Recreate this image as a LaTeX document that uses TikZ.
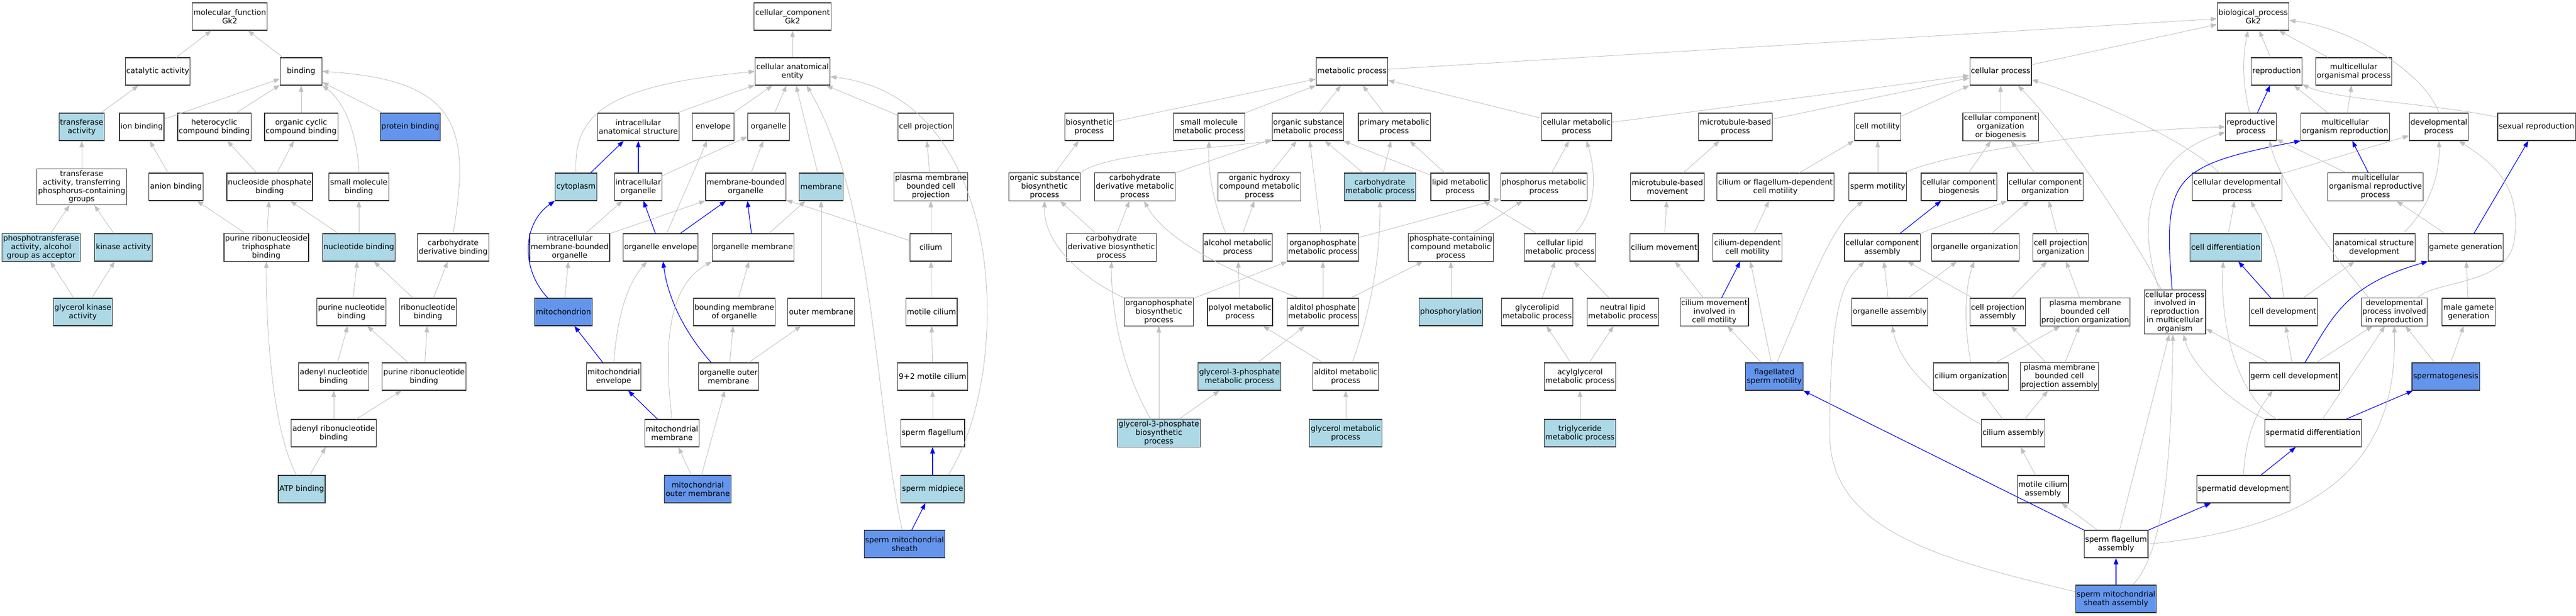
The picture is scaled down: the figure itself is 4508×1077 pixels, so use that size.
\documentclass[tikz,border=0pt]{standalone}
\usepackage{fontspec}
\setmainfont{DejaVu Sans}
\usetikzlibrary{arrows.meta}
\definecolor{boxlight}{RGB}{173,216,230}
\definecolor{boxdark}{RGB}{100,149,237}
\definecolor{edgegray}{RGB}{192,192,192}

\begin{document}
\begin{tikzpicture}[x=1pt,y=1pt,
  every node/.style={draw=black!80,line width=1.1pt,fill=white,align=center,
    minimum width=73pt,minimum height=48pt,inner xsep=2pt,inner ysep=3pt,
    font=\fontsize{13.3}{14.7}\selectfont},%
  hl/.style={fill=boxlight},%
  hd/.style={fill=boxdark},%
  e/.style={-{Triangle[length=11pt,width=8pt]},line width=0.85pt,edgegray},%
  p/.style={e,blue,line width=1.1pt},%
  ]

  \path [fill=white] (0,0) rectangle (4508,-1077);
  \useasboundingbox (0,0) rectangle (4508,-1077);

  \node (mf) at (402,-29) {molecular\_function\\Gk2};
  \node (catact) at (276,-125) {catalytic activity};
  \node (bind) at (527,-125) {binding};
  \node (transf) [hl] at (143,-222) {transferase\\activity};
  \node (ionb) at (248,-222) {ion binding};
  \node (hetb) at (375,-222) {heterocyclic\\compound binding};
  \node (orgcb) at (527,-222) {organic cyclic\\compound binding};
  \node (protb) [hd] at (718,-222) {protein binding};
  \node (transfp) at (143,-327) {transferase\\activity, transferring\\phosphorus-containing\\groups};
  \node (anionb) at (308,-327) {anion binding};
  \node (nucpb) at (472,-327) {nucleoside phosphate\\binding};
  \node (smolb) at (628,-327) {small molecule\\binding};
  \node (phosph) [hl] at (72,-433) {phosphotransferase\\activity, alcohol\\group as acceptor};
  \node (kinase) [hl] at (216,-433) {kinase activity};
  \node (purrtb) at (466,-433) {purine ribonucleoside\\triphosphate\\binding};
  \node (nucb) [hl] at (628,-433) {nucleotide binding};
  \node (carbdb) at (793,-433) {carbohydrate\\derivative binding};
  \node (glyck) [hl] at (145,-546) {glycerol kinase\\activity};
  \node (purnb) at (615,-546) {purine nucleotide\\binding};
  \node (ribob) at (749,-546) {ribonucleotide\\binding};
  \node (adenb) at (584,-659) {adenyl nucleotide\\binding};
  \node (purrb) at (742,-659) {purine ribonucleotide\\binding};
  \node (adenrb) at (584,-758) {adenyl ribonucleotide\\binding};
  \node (atpb) [hl] at (528,-856) {ATP binding};

  \node (cc) at (1387,-29) {cellular\_component\\Gk2};
  \node (cae) at (1387,-125) {cellular anatomical\\entity};
  \node (ias) at (1117,-222) {intracellular\\anatomical structure};
  \node (env) at (1248,-222) {envelope};
  \node (org) at (1345,-222) {organelle};
  \node (cproj) at (1620,-222) {cell projection};
  \node (cyto) [hl] at (1008,-327) {cytoplasm};
  \node (iorg) at (1117,-327) {intracellular\\organelle};
  \node (mbo) at (1305,-327) {membrane-bounded\\organelle};
  \node (memb) [hl] at (1437,-327) {membrane};
  \node (pmbcp) at (1629,-327) {plasma membrane\\bounded cell\\projection};
  \node (imbo) at (997,-433) {intracellular\\membrane-bounded\\organelle};
  \node (orgenv) at (1156,-433) {organelle envelope};
  \node (orgmem) at (1318,-433) {organelle membrane};
  \node (cilium) at (1629,-433) {cilium};
  \node (mito) [hd] at (986,-546) {mitochondrion};
  \node (bmo) at (1285,-546) {bounding membrane\\of organelle};
  \node (outmem) at (1437,-546) {outer membrane};
  \node (motcil) at (1630,-546) {motile cilium};
  \node (mitoenv) at (1074,-659) {mitochondrial\\envelope};
  \node (orgout) at (1275,-659) {organelle outer\\membrane};
  \node (cil92) at (1632,-659) {9+2 motile cilium};
  \node (mitomem) at (1176,-758) {mitochondrial\\membrane};
  \node (spflag) at (1632,-758) {sperm flagellum};
  \node (mitoout) [hd] at (1221,-856) {mitochondrial\\outer membrane};
  \node (spmid) [hl] at (1632,-856) {sperm midpiece};
  \node (spsheath) [hd] at (1583,-952) {sperm mitochondrial\\sheath};

  \node (bp) at (3943,-29) {biological\_process\\Gk2};
  \node (metab) at (2366,-125) {metabolic process};
  \node (cellp) at (3501,-125) {cellular process};
  \node (repro) at (3984,-125) {reproduction};
  \node (mcop) at (4119,-125) {multicellular\\organismal process};
  \node (biosyn) at (1906,-222) {biosynthetic\\process};
  \node (smmp) at (2116,-222) {small molecule\\metabolic process};
  \node (osmp) at (2289,-222) {organic substance\\metabolic process};
  \node (primp) at (2440,-222) {primary metabolic\\process};
  \node (cmp) at (2759,-222) {cellular metabolic\\process};
  \node (mtbp) at (3037,-222) {microtubule-based\\process};
  \node (cmot) at (3286,-222) {cell motility};
  \node (ccob) at (3501,-222) {cellular component\\organization\\or biogenesis};
  \node (reprop) at (3939,-222) {reproductive\\process};
  \node (mcor) at (4104,-222) {multicellular\\organism reproduction};
  \node (devp) at (4268,-222) {developmental\\process};
  \node (sexr) at (4439,-222) {sexual reproduction};
  \node (osbp) at (1828,-327) {organic substance\\biosynthetic\\process};
  \node (cdmp) at (1986,-327) {carbohydrate\\derivative metabolic\\process};
  \node (ohcmp) at (2204,-327) {organic hydroxy\\compound metabolic\\process};
  \node (carbmp) [hl] at (2415,-327) {carbohydrate\\metabolic process};
  \node (lipmp) at (2555,-327) {lipid metabolic\\process};
  \node (phosmp) at (2702,-327) {phosphorus metabolic\\process};
  \node (mtbm) at (2918,-327) {microtubule-based\\movement};
  \node (cfdcm) at (3107,-327) {cilium or flagellum-dependent\\cell motility};
  \node (spmot) at (3286,-327) {sperm motility};
  \node (ccbio) at (3428,-327) {cellular component\\biogenesis};
  \node (ccorg) at (3579,-327) {cellular component\\organization};
  \node (cdevp) at (3915,-327) {cellular developmental\\process};
  \node (morp) at (4157,-327) {multicellular\\organismal reproductive\\process};
  \node (cdbp) at (1945,-433) {carbohydrate\\derivative biosynthetic\\process};
  \node (alcmp) at (2166,-433) {alcohol metabolic\\process};
  \node (opmp) at (2315,-433) {organophosphate\\metabolic process};
  \node (pccmp) at (2539,-433) {phosphate-containing\\compound metabolic\\process};
  \node (clmp) at (2730,-433) {cellular lipid\\metabolic process};
  \node (cilmov) at (2912,-433) {cilium movement};
  \node (cdcm) at (3058,-433) {cilium-dependent\\cell motility};
  \node (ccasm) at (3294,-433) {cellular component\\assembly};
  \node (orgorg) at (3457,-433) {organelle organization};
  \node (cporg) at (3606,-433) {cell projection\\organization};
  \node (celldiff) [hl] at (3895,-433) {cell differentiation};
  \node (asdev) at (4155,-433) {anatomical structure\\development};
  \node (gamgen) at (4315,-433) {gamete generation};
  \node (opbp) at (2028,-546) {organophosphate\\biosynthetic\\process};
  \node (polmp) at (2170,-546) {polyol metabolic\\process};
  \node (apmp) at (2315,-546) {alditol phosphate\\metabolic process};
  \node (phosphor) [hl] at (2539,-546) {phosphorylation};
  \node (glmp) at (2690,-546) {glycerolipid\\metabolic process};
  \node (nlmp) at (2840,-546) {neutral lipid\\metabolic process};
  \node (cmicm) at (3000,-546) {cilium movement\\involved in\\cell motility};
  \node (orgasm) at (3307,-546) {organelle assembly};
  \node (cpasm) at (3496,-546) {cell projection\\assembly};
  \node (pmbcpo) at (3649,-546) {plasma membrane\\bounded cell\\projection organization};
  \node (cpirmo) at (3806,-546) {cellular process\\involved in\\reproduction\\in multicellular\\organism};
  \node (celldev) at (3996,-546) {cell development};
  \node (dpir) at (4190,-546) {developmental\\process involved\\in reproduction};
  \node (mgg) at (4320,-546) {male gamete\\generation};
  \node (g3pmp) [hl] at (2169,-659) {glycerol-3-phosphate\\metabolic process};
  \node (altmp) at (2355,-659) {alditol metabolic\\process};
  \node (acylmp) at (2765,-659) {acylglycerol\\metabolic process};
  \node (fsm) [hd] at (3105,-659) {flagellated\\sperm motility};
  \node (cilorg) at (3449,-659) {cilium organization};
  \node (pmbcpa) at (3604,-659) {plasma membrane\\bounded cell\\projection assembly};
  \node (gcd) at (4015,-659) {germ cell development};
  \node (sperm) [hd] at (4280,-659) {spermatogenesis};
  \node (g3pbp) [hl] at (2028,-758) {glycerol-3-phosphate\\biosynthetic\\process};
  \node (glymp) [hl] at (2355,-758) {glycerol metabolic\\process};
  \node (trimp) [hl] at (2765,-758) {triglyceride\\metabolic process};
  \node (cilasm) at (3523,-758) {cilium assembly};
  \node (sptdiff) at (4048,-758) {spermatid differentiation};
  \node (mcasm) at (3575,-856) {motile cilium\\assembly};
  \node (sptdev) at (3926,-856) {spermatid development};
  \node (sfa) at (3703,-952) {sperm flagellum\\assembly};
  \node (smsa) [hd] at (3703,-1048) {sperm mitochondrial\\sheath assembly};

  \draw [e] (catact) -- (mf);
  \draw [e] (bind) -- (mf);
  \draw [e] (transf) -- (catact);
  \draw [e] (ionb) -- (bind);
  \draw [e] (hetb) -- (bind);
  \draw [e] (orgcb) -- (bind);
  \draw [e] (protb) -- (bind);
  \draw [e] (smolb.north) .. controls (626,-240) and (605,-180) .. (bind.south east);
  \draw [e] (carbdb.north) .. controls (825,-220) and (800,-140) .. (bind.east);
  \draw [e] (transfp) -- (transf);
  \draw [e] (anionb) -- (ionb);
  \draw [e] (nucpb) -- (hetb);
  \draw [e] (nucpb) -- (orgcb);
  \draw [e] (phosph) -- (transfp);
  \draw [e] (kinase) -- (transfp);
  \draw [e] (glyck) -- (phosph);
  \draw [e] (glyck) -- (kinase);
  \draw [e] (purrtb) -- (anionb);
  \draw [e] (purrtb) -- (nucpb);
  \draw [e] (nucb) -- (nucpb);
  \draw [e] (nucb) -- (smolb);
  \draw [e] (purnb) -- (nucb);
  \draw [e] (ribob) -- (nucb);
  \draw [e] (ribob) -- (carbdb);
  \draw [e] (adenb) -- (purnb);
  \draw [e] (purrb) -- (purnb);
  \draw [e] (purrb) -- (ribob);
  \draw [e] (adenrb) -- (adenb);
  \draw [e] (adenrb) -- (purrb);
  \draw [e] (atpb) -- (adenrb);
  \draw [e] (atpb.110) .. controls (480,-760) and (466,-600) .. (purrtb.south);

  \draw [e] (cae) -- (cc);
  \draw [e] (ias) -- (cae);
  \draw [e] (env) -- (cae);
  \draw [e] (org) -- (cae);
  \draw [e] (cproj) -- (cae);
  \draw [e] (memb) -- (cae);
  \draw [e] (cyto.north) .. controls (1003,-200) and (1060,-150) .. (cae.west);
  \draw [e] (spsheath.100) .. controls (1530,-700) and (1530,-350) .. (cae.-45);
  \draw [e] (spmid.42) .. controls (1775,-650) and (1765,-170) .. (cae.-8);
  \draw [p] (cyto) -- (ias);
  \draw [p] (iorg) -- (ias);
  \draw [e] (iorg) -- (org);
  \draw [e] (mbo) -- (org);
  \draw [e] (pmbcp) -- (cproj);
  \draw [e] (imbo) -- (iorg);
  \draw [e] (imbo) -- (mbo);
  \draw [p] (orgenv) -- (iorg);
  \draw [p] (orgenv) -- (mbo);
  \draw [e] (orgenv) -- (env);
  \draw [p] (orgmem) -- (mbo);
  \draw [e] (orgmem) -- (memb);
  \draw [e] (cilium) -- (pmbcp);
  \draw [e] (cilium) -- (mbo);
  \draw [p] (mito.138) .. controls (910,-470) and (915,-390) .. (cyto.south west);
  \draw [e] (mito) -- (imbo);
  \draw [e] (outmem) -- (memb);
  \draw [e] (motcil) -- (cilium);
  \draw [e] (bmo) -- (orgmem);
  \draw [p] (mitoenv) -- (mito);
  \draw [e] (mitoenv.north) .. controls (1080,-560) and (1095,-500) .. (orgenv.-134);
  \draw [e] (orgout) -- (bmo);
  \draw [e] (orgout) -- (outmem);
  \draw [p] (orgout.141) .. controls (1205,-590) and (1170,-530) .. (orgenv.-80);
  \draw [p] (mitomem) -- (mitoenv);
  \draw [e] (mitomem.north) .. controls (1160,-600) and (1170,-500) .. (orgmem.south west);
  \draw [e] (mitoout) -- (mitomem);
  \draw [e] (mitoout) -- (orgout);
  \draw [e] (cil92) -- (motcil);
  \draw [e] (spflag) -- (cil92);
  \draw [p] (spmid) -- (spflag);
  \draw [p] (spsheath) -- (spmid);

  \draw [e] (metab) -- (bp);
  \draw [e] (cellp) -- (bp);
  \draw [e] (repro) -- (bp);
  \draw [e] (mcop) -- (bp);
  \draw [e] (devp.north) .. controls (4245,-130) and (4120,-50) .. (bp.-6);
  \draw [e] (reprop.95) .. controls (3922,-140) and (3926,-90) .. (bp.-110);
  \draw [e] (biosyn) -- (metab);
  \draw [e] (smmp) -- (metab);
  \draw [e] (osmp) -- (metab);
  \draw [e] (primp) -- (metab);
  \draw [e] (cmp) -- (metab);
  \draw [e] (cmp) -- (cellp);
  \draw [e] (mtbp) -- (cellp);
  \draw [e] (cmot) -- (cellp);
  \draw [e] (ccob) -- (cellp);
  \draw [p] (reprop) -- (repro);
  \draw [e] (mcor) -- (repro);
  \draw [e] (mcor) -- (mcop);
  \draw [e] (sexr.166) .. controls (4250,-180) and (4090,-175) .. (repro.-27);
  \draw [e] (osbp) -- (biosyn);
  \draw [e] (osbp.north east) .. controls (1930,-270) and (2100,-262) .. (osmp.south west);
  \draw [e] (cdmp) -- (osmp);
  \draw [e] (ohcmp) -- (osmp);
  \draw [e] (carbmp) -- (osmp);
  \draw [e] (carbmp) -- (primp);
  \draw [e] (lipmp) -- (primp);
  \draw [e] (lipmp) -- (osmp);
  \draw [e] (phosmp) -- (cmp);
  \draw [e] (mtbm) -- (mtbp);
  \draw [e] (cfdcm) -- (cmot);
  \draw [e] (spmot) -- (cmot);
  \draw [e] (spmot.28) .. controls (3400,-270) and (3650,-230) .. (reprop.west);
  \draw [e] (ccbio) -- (ccob);
  \draw [e] (ccorg) -- (ccob);
  \draw [e] (cdevp) -- (devp);
  \draw [e] (cdevp.142) .. controls (3820,-240) and (3640,-165) .. (cellp.-15);
  \draw [e] (morp) -- (reprop);
  \draw [p] (morp) -- (mcor);
  \draw [e] (opmp) -- (osmp);
  \draw [e] (opmp) -- (phosmp);
  \draw [e] (cdbp) -- (osbp);
  \draw [e] (cdbp) -- (cdmp);
  \draw [e] (alcmp.130) .. controls (2125,-360) and (2113,-300) .. (smmp.south);
  \draw [e] (alcmp) -- (ohcmp);
  \draw [e] (pccmp) -- (phosmp);
  \draw [e] (clmp.43) .. controls (2800,-360) and (2790,-290) .. (cmp.-55);
  \draw [e] (clmp) -- (lipmp);
  \draw [e] (cilmov) -- (mtbm);
  \draw [e] (cdcm) -- (cfdcm);
  \draw [p] (ccasm) -- (ccbio);
  \draw [e] (ccasm) -- (ccorg);
  \draw [e] (orgorg) -- (ccorg);
  \draw [e] (cporg) -- (ccorg);
  \draw [e] (celldiff) -- (cdevp);
  \draw [e] (asdev.26) .. controls (4255,-360) and (4270,-300) .. (devp.south);
  \draw [e] (gamgen) -- (morp);
  \draw [p] (gamgen) -- (sexr);
  \draw [e] (opbp.north west) .. controls (1880,-480) and (1826,-420) .. (osbp.south);
  \draw [e] (opbp) -- (opmp);
  \draw [e] (polmp) -- (alcmp);
  \draw [e] (apmp) -- (opmp);
  \draw [e] (apmp.150) .. controls (2140,-470) and (2040,-420) .. (cdmp.-57);
  \draw [e] (apmp) -- (pccmp);
  \draw [e] (phosphor) -- (pccmp);
  \draw [e] (glmp) -- (clmp);
  \draw [e] (nlmp) -- (clmp);
  \draw [e] (cmicm) -- (cilmov);
  \draw [p] (cmicm) -- (cdcm);
  \draw [e] (orgasm) -- (ccasm);
  \draw [e] (orgasm) -- (orgorg);
  \draw [e] (cpasm) -- (ccasm);
  \draw [e] (cpasm) -- (cporg);
  \draw [e] (pmbcpo) -- (cporg);
  \draw [e] (cpirmo.121) .. controls (3730,-410) and (3620,-240) .. (cellp.-39);
  \draw [e] (cpirmo.125) .. controls (3735,-380) and (3765,-270) .. (reprop.192);
  \draw [p] (cpirmo.97) .. controls (3785,-310) and (3800,-290) .. (mcor.south west);
  \draw [e] (celldev.north) .. controls (3990,-440) and (3960,-390) .. (cdevp.-46);
  \draw [p] (celldev) -- (celldiff);
  \draw [e] (celldev) -- (asdev);
  \draw [e] (dpir.31) .. controls (4260,-490) and (4390,-500) .. (4400,-420)
    .. controls (4412,-330) and (4370,-290) .. (devp.-35);
  \draw [e] (dpir.151) .. controls (4070,-430) and (3990,-320) .. (reprop.-37);
  \draw [e] (mgg) -- (gamgen);
  \draw [e] (g3pmp) -- (apmp);
  \draw [e] (altmp) -- (polmp);
  \draw [e] (altmp.65) .. controls (2400,-540) and (2415,-450) .. (carbmp.south);
  \draw [e] (acylmp) -- (glmp);
  \draw [e] (acylmp) -- (nlmp);
  \draw [e] (fsm) -- (cmicm);
  \draw [e] (fsm) -- (cdcm);
  \draw [e] (fsm.80) .. controls (3160,-520) and (3200,-400) .. (spmot.-136);
  \draw [e] (cilorg.north) .. controls (3435,-560) and (3440,-500) .. (orgorg.-95);
  \draw [e] (cilorg) -- (pmbcpo);
  \draw [p] (gcd.53) .. controls (4080,-560) and (4100,-500) .. (gamgen.south west);
  \draw [e] (gcd) -- (cpirmo);
  \draw [e] (gcd) -- (celldev);
  \draw [e] (gcd) -- (dpir);
  \draw [e] (sperm) -- (dpir);
  \draw [e] (sperm) -- (mgg);
  \draw [e] (g3pbp) -- (opbp);
  \draw [e] (g3pbp) -- (g3pmp);
  \draw [e] (g3pbp.120) .. controls (1960,-640) and (1945,-540) .. (cdbp.south);
  \draw [e] (glymp) -- (altmp);
  \draw [e] (trimp) -- (acylmp);
  \draw [e] (cilasm) -- (cilorg);
  \draw [e] (cilasm) -- (pmbcpa);
  \draw [e] (cilasm.165) .. controls (3390,-700) and (3325,-640) .. (orgasm.-80);
  \draw [e] (pmbcpa) -- (cpasm);
  \draw [e] (pmbcpa) -- (pmbcpo);
  \draw [p] (sptdiff) -- (sperm);
  \draw [e] (sptdiff.159) .. controls (3910,-690) and (3885,-560) .. (celldiff.-100);
  \draw [e] (sptdiff.north west) .. controls (3900,-700) and (3835,-640) .. (cpirmo.-69);
  \draw [e] (sptdiff) -- (dpir);
  \draw [e] (mcasm) -- (cilasm);
  \draw [p] (sptdev) -- (sptdiff);
  \draw [e] (sptdev.north) .. controls (3930,-760) and (3950,-720) .. (gcd.-147);
  \draw [p] (sfa) -- (sptdev);
  \draw [e] (sfa) -- (mcasm);
  \draw [e] (sfa) -- (cpirmo);
  \draw [p] (sfa.north west) -- (fsm.south east);
  \draw [e] (sfa.east) .. controls (4100,-920) and (4195,-780) .. (dpir.south);
  \draw [p] (smsa) -- (sfa);
  \draw [e] (smsa.40) .. controls (3795,-960) and (3800,-750) .. (cpirmo.-95);
  \draw [e] (smsa.170) .. controls (3400,-980) and (3202,-930) .. (3202,-760)
    .. controls (3202,-520) and (3230,-490) .. (ccasm.-142);
\end{tikzpicture}
\end{document}
